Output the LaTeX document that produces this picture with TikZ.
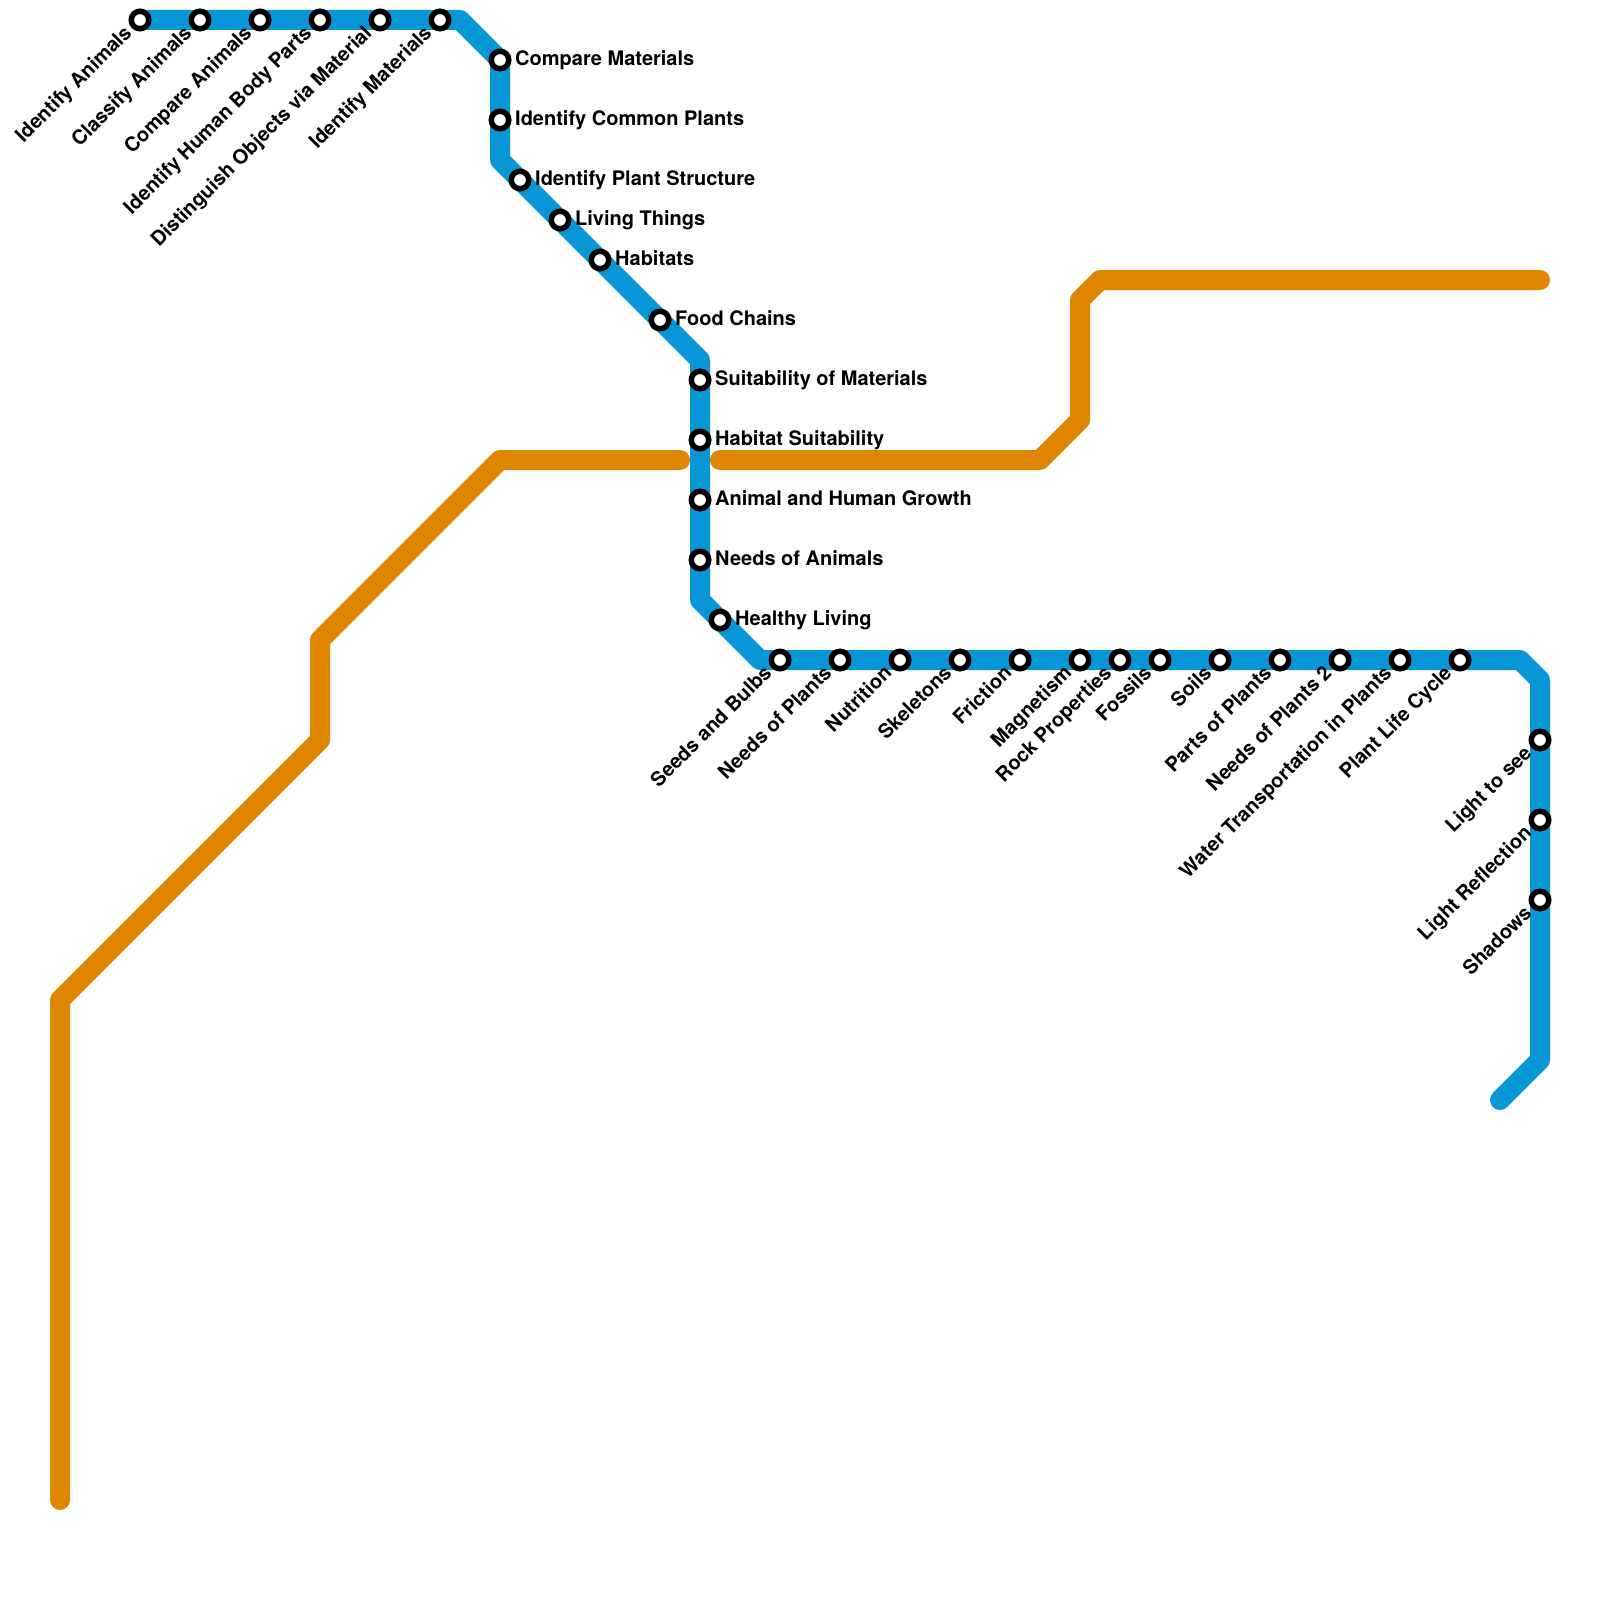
\documentclass[tikz,border=0pt]{standalone}
\usepackage{fontspec}
\setmainfont{TeX Gyre Heros}
\definecolor{lineblue}{HTML}{0896D7}
\definecolor{lineorange}{HTML}{DF8600}
\begin{document}
\begin{tikzpicture}[x=1pt,y=-1pt]
	\tikzstyle{track} = [line width=20pt, line cap=round, line join=round]
	\tikzstyle{stn} = [draw=black, fill=white, circle, line width=5.5pt, minimum size=17.5pt, inner sep=0pt]
	\tikzstyle{lblr} = [font=\fontsize{20}{22}\selectfont\bfseries, inner sep=0pt, anchor=base west, xshift=15pt, yshift=-5.5pt]
	\tikzstyle{lbll} = [font=\fontsize{20}{22}\selectfont\bfseries, inner sep=0pt, anchor=base east, rotate=45, xshift=-15pt, yshift=-5pt]
	\useasboundingbox (0,0) rectangle (1600,1600);

	% orange line
	\coordinate (o0) at (60,1500);
	\coordinate (o1) at (60,1000);
	\coordinate (o2) at (320,740);
	\coordinate (o3) at (320,640);
	\coordinate (o4) at (500,460);
	\coordinate (o5) at (680,460);
	\coordinate (o6) at (720,460);
	\coordinate (o7) at (1040,460);
	\coordinate (o8) at (1080,420);
	\coordinate (o9) at (1080,300);
	\coordinate (o10) at (1100,280);
	\coordinate (o11) at (1540,280);
	\draw[track,lineorange] (o0) -- (o1) -- (o2) -- (o3) -- (o4) -- (o5);
	\draw[track,lineorange] (o6) -- (o7) -- (o8) -- (o9) -- (o10) -- (o11);

	% blue line
	\coordinate (b0) at (140,20);
	\coordinate (b1) at (460,20);
	\coordinate (b2) at (500,60);
	\coordinate (b3) at (500,160);
	\coordinate (b4) at (700,360);
	\coordinate (b5) at (700,600);
	\coordinate (b6) at (760,660);
	\coordinate (b7) at (1520,660);
	\coordinate (b8) at (1540,680);
	\coordinate (b9) at (1540,1060);
	\coordinate (b10) at (1500,1100);
	\draw[track,lineblue] (b0) -- (b1) -- (b2) -- (b3) -- (b4) -- (b5) -- (b6) -- (b7) -- (b8) -- (b9) -- (b10);

	% stations along the top
	\node[stn] (ia) at (140,20) {};
	\node[stn] (ca) at (200,20) {};
	\node[stn] (cpa) at (260,20) {};
	\node[stn] (ihb) at (320,20) {};
	\node[stn] (dom) at (380,20) {};
	\node[stn] (im) at (440,20) {};
	\node[lbll] (iat) at (ia.center) {Identify Animals};
	\node[lbll] (cat) at (ca.center) {Classify Animals};
	\node[lbll] (cpat) at (cpa.center) {Compare Animals};
	\node[lbll] (ihbt) at (ihb.center) {Identify Human Body Parts};
	\node[lbll] (domt) at (dom.center) {Distinguish Objects via Material};
	\node[lbll] (imt) at (im.center) {Identify Materials};

	% stations on the way down
	\node[stn] (cm) at (500,60) {};
	\node[stn] (icp) at (500,120) {};
	\node[stn] (ips) at (520,180) {};
	\node[stn] (lt) at (560,220) {};
	\node[stn] (hab) at (600,260) {};
	\node[stn] (fc) at (660,320) {};
	\node[stn] (som) at (700,380) {};
	\node[stn] (hs) at (700,440) {};
	\node[stn] (ahg) at (700,500) {};
	\node[stn] (noa) at (700,560) {};
	\node[stn] (hl) at (720,620) {};
	\node[lblr] (cmt) at (cm.center) {Compare Materials};
	\node[lblr] (icpt) at (icp.center) {Identify Common Plants};
	\node[lblr] (ipst) at (ips.center) {Identify Plant Structure};
	\node[lblr] (ltt) at (lt.center) {Living Things};
	\node[lblr] (habt) at (hab.center) {Habitats};
	\node[lblr] (fct) at (fc.center) {Food Chains};
	\node[lblr] (somt) at (som.center) {Suitability of Materials};
	\node[lblr] (hst) at (hs.center) {Habitat Suitability};
	\node[lblr] (ahgt) at (ahg.center) {Animal and Human Growth};
	\node[lblr] (noat) at (noa.center) {Needs of Animals};
	\node[lblr] (hlt) at (hl.center) {Healthy Living};

	% stations along the bottom
	\node[stn] (sb) at (780,660) {};
	\node[stn] (nop) at (840,660) {};
	\node[stn] (nut) at (900,660) {};
	\node[stn] (ske) at (960,660) {};
	\node[stn] (fri) at (1020,660) {};
	\node[stn] (mag) at (1080,660) {};
	\node[stn] (rp) at (1120,660) {};
	\node[stn] (fos) at (1160,660) {};
	\node[stn] (soi) at (1220,660) {};
	\node[stn] (pop) at (1280,660) {};
	\node[stn] (np2) at (1340,660) {};
	\node[stn] (wtp) at (1400,660) {};
	\node[stn] (plc) at (1460,660) {};
	\node[lbll] (sbt) at (sb.center) {Seeds and Bulbs};
	\node[lbll] (nopt) at (nop.center) {Needs of Plants};
	\node[lbll] (nutt) at (nut.center) {Nutrition};
	\node[lbll] (sket) at (ske.center) {Skeletons};
	\node[lbll] (frit) at (fri.center) {Friction};
	\node[lbll] (magt) at (mag.center) {Magnetism};
	\node[lbll] (rpt) at (rp.center) {Rock Properties};
	\node[lbll] (fost) at (fos.center) {Fossils};
	\node[lbll] (soit) at (soi.center) {Soils};
	\node[lbll] (popt) at (pop.center) {Parts of Plants};
	\node[lbll] (np2t) at (np2.center) {Needs of Plants 2};
	\node[lbll] (wtpt) at (wtp.center) {Water Transportation in Plants};
	\node[lbll] (plct) at (plc.center) {Plant Life Cycle};

	% stations on the right
	\node[stn] (lts) at (1540,740) {};
	\node[stn] (lr) at (1540,820) {};
	\node[stn] (sha) at (1540,900) {};
	\node[lbll] (ltst) at (lts.center) {Light to see};
	\node[lbll] (lrt) at (lr.center) {Light Reflection};
	\node[lbll] (shat) at (sha.center) {Shadows};
\end{tikzpicture}
\end{document}
